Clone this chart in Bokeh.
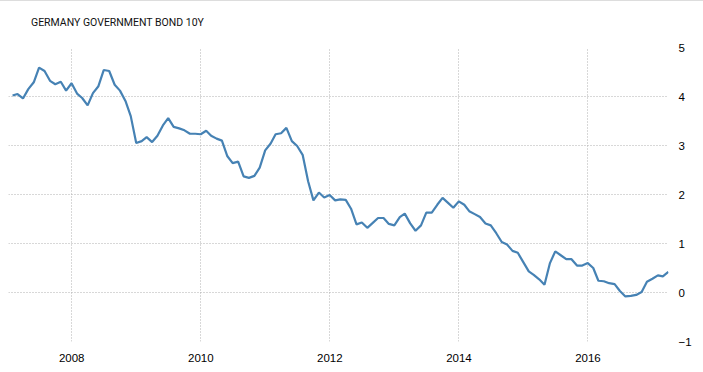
import pandas as pd
from bokeh.plotting import figure
from bokeh.layouts import column
from bokeh.models import ColumnDataSource, FixedTicker, DatetimeTickFormatter, Range1d, Div
from bokeh.embed import file_html
from bokeh.resources import INLINE

# Monthly closing yields (%), Jan 2007 - Mar 2017
y2007 = [4.02, 4.05, 3.96, 4.15, 4.29, 4.59, 4.52, 4.32, 4.25, 4.30, 4.12, 4.27]
y2008 = [4.06, 3.97, 3.82, 4.07, 4.21, 4.54, 4.52, 4.24, 4.12, 3.91, 3.60, 3.05]
y2009 = [3.09, 3.17, 3.07, 3.20, 3.41, 3.56, 3.38, 3.35, 3.31, 3.24, 3.24, 3.23]
y2010 = [3.30, 3.20, 3.14, 3.10, 2.78, 2.64, 2.67, 2.37, 2.34, 2.38, 2.55, 2.90]
y2011 = [3.04, 3.23, 3.25, 3.36, 3.09, 2.99, 2.81, 2.27, 1.88, 2.04, 1.94, 1.99]
y2012 = [1.88, 1.90, 1.89, 1.71, 1.39, 1.43, 1.32, 1.42, 1.52, 1.52, 1.40, 1.37]
y2013 = [1.54, 1.61, 1.41, 1.26, 1.37, 1.63, 1.63, 1.79, 1.93, 1.83, 1.73, 1.86]
y2014 = [1.79, 1.66, 1.60, 1.54, 1.41, 1.37, 1.21, 1.03, 0.98, 0.85, 0.81, 0.62]
y2015 = [0.43, 0.36, 0.27, 0.16, 0.60, 0.84, 0.76, 0.68, 0.68, 0.55, 0.55, 0.60]
y2016 = [0.50, 0.24, 0.23, 0.19, 0.17, 0.03, -0.08, -0.07, -0.05, 0.01, 0.22, 0.28]
y2017 = [0.35, 0.33, 0.42]

yields = y2007 + y2008 + y2009 + y2010 + y2011 + y2012 + y2013 + y2014 + y2015 + y2016 + y2017
dates = pd.date_range("2007-02-01", periods=len(yields), freq="MS") - pd.Timedelta(days=1)

x_tick_years = [2008, 2010, 2012, 2014, 2016]
y_ticks = [-1, 0, 1, 2, 3, 4, 5]
title_text = "GERMANY GOVERNMENT BOND 10Y"

def ms(ts):
    return pd.Timestamp(ts).value / 1e6

x_ticks = [ms(f"{y}-01-01") for y in x_tick_years]

source = ColumnDataSource(data=dict(date=dates, yld=yields))

header = Div(
    text=('<div style="position:absolute; left:31px; top:15px; white-space:nowrap; '
          'font-family:Roboto; font-size:10.5px; line-height:13px; color:#111111;">'
          + title_text + '</div>'),
    width=703, height=32, margin=0,
    styles={"border-top": "1px solid #dddddd", "box-sizing": "border-box", "position": "relative"},
)

p = figure(width=703, height=339, x_axis_type="datetime", y_axis_location="right",
           x_range=Range1d(ms("2007-01-08"), ms("2017-04-01")),
           y_range=Range1d(-1, 5),
           output_backend="svg", toolbar_location=None,
           min_border_left=8, min_border_right=35, min_border_top=15, min_border_bottom=30)

p.outline_line_color = None
p.background_fill_color = "white"
p.border_fill_color = "white"

p.line("date", "yld", source=source, line_color="#4682B4", line_width=2.2)

xt = FixedTicker(ticks=x_ticks)
p.xaxis.ticker = xt
p.xaxis.formatter = DatetimeTickFormatter(years="%Y", months="%Y", days="%Y")
p.xgrid.ticker = xt
yt = FixedTicker(ticks=y_ticks)
p.yaxis.ticker = yt
p.ygrid.ticker = yt

for ax in (p.xaxis[0], p.yaxis[0]):
    ax.axis_line_color = None
    ax.major_tick_line_color = None
    ax.minor_tick_line_color = None
    ax.major_label_text_font = "Liberation Sans"
    ax.major_label_text_font_size = "11.5px"
    ax.major_label_text_color = "#000000"
p.xaxis.major_label_standoff = 6
p.yaxis.major_label_standoff = 4

for g in (p.xgrid[0], p.ygrid[0]):
    g.grid_line_color = "#b0b0b0"
    g.grid_line_dash = "1 2"
    g.grid_line_width = 1

layout = column(header, p, spacing=0)
open("out.html", "w").write(file_html(layout, INLINE))
